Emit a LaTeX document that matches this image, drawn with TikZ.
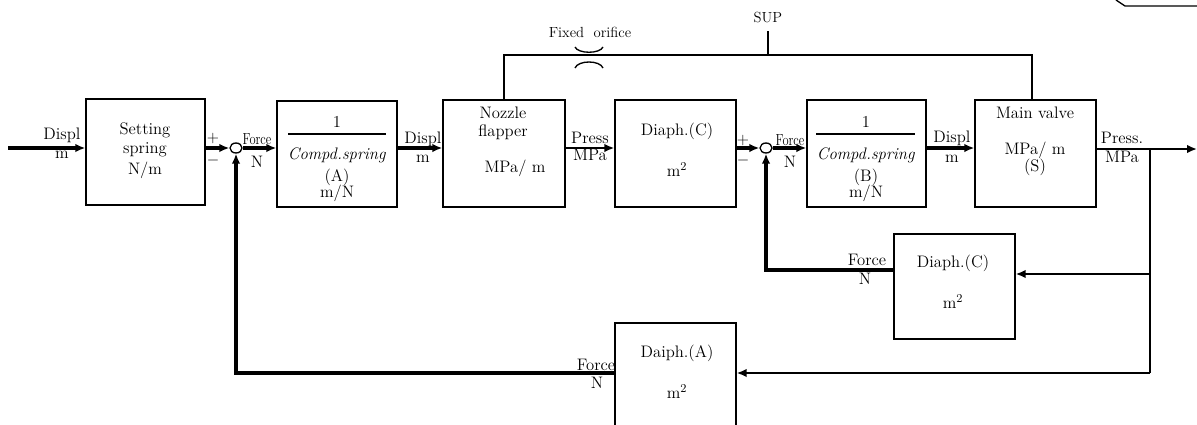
\documentclass[tikz,border=0pt]{standalone}
\usetikzlibrary{arrows.meta,shapes.geometric}
\begin{document}
\begin{tikzpicture}[x=0.75pt,y=-0.75pt,
  font=\fontsize{12.5}{14}\selectfont,
  blk/.style={draw,line width=1pt,inner sep=0pt},
  thk/.style={line width=2.4pt,-{Latex[length=7.5pt,width=6.5pt]}},
  thkline/.style={line width=2.4pt},
  med/.style={line width=1.5pt,-{Latex[length=7.5pt,width=6.5pt]}},
  medline/.style={line width=1.5pt},
  thin/.style={line width=1pt},
  lbl/.style={inner sep=0pt},
  sml/.style={inner sep=0pt,font=\fontsize{11}{12}\selectfont},
  cmp/.style={inner sep=0pt,xscale=0.78,font=\fontsize{12}{12}\selectfont},
  sumj/.style={draw,ellipse,line width=1pt,minimum width=9pt,minimum height=7.5pt,inner sep=0pt,fill=white}]
\useasboundingbox (0,0) rectangle (1197,425);

% blocks
\node[blk,minimum width=119*0.75pt,minimum height=106*0.75pt] (ss) at (145.5,152) {};
\node[blk,minimum width=120*0.75pt,minimum height=106*0.75pt] (ca) at (337,154) {};
\node[blk,minimum width=122*0.75pt,minimum height=107*0.75pt] (nf) at (504,153.5) {};
\node[blk,minimum width=121*0.75pt,minimum height=107*0.75pt] (dc) at (675.5,153.5) {};
\node[blk,minimum width=119*0.75pt,minimum height=107*0.75pt] (cb) at (866.5,153.5) {};
\node[blk,minimum width=121*0.75pt,minimum height=107*0.75pt] (mv) at (1035.5,153.5) {};
\node[blk,minimum width=121*0.75pt,minimum height=105*0.75pt] (dc2) at (954.5,286.5) {};
\node[blk,minimum width=121*0.75pt,minimum height=112*0.75pt] (da) at (675.5,379) {};

% summing junctions
\node[sumj] (s1) at (236,148) {};
\node[sumj] (s2) at (766,148) {};

% helper coordinates
\coordinate (mainy) at (0,148);
\coordinate (outy) at (0,149);
\coordinate (in) at (8,148);
\coordinate (out) at (1197,149);
\coordinate (j) at (1150,149);
\coordinate (jb) at (1150,274);
\coordinate (jc) at (1150,373);
\coordinate (fb2) at (766,270);
\coordinate (fb1) at (236,373);
\coordinate (supL) at (504,55);
\coordinate (supR) at (1032,55);
\coordinate (mvtop) at (1032,100);
\coordinate (supt1) at (768,31);
\coordinate (supt2) at (768,55);

% forward path
\draw[thk] (in) -- (ss.west |- mainy);
\draw[thk] (ss.east |- mainy) -- (s1.west);
\draw[thk] (s1.east) -- (ca.west |- mainy);
\draw[thk] (ca.east |- mainy) -- (nf.west |- mainy);
\draw[med] (nf.east |- mainy) -- (dc.west |- mainy);
\draw[thk] (dc.east |- mainy) -- (s2.west);
\draw[thk] (s2.east) -- (cb.west |- mainy);
\draw[thk] (cb.east |- mainy) -- (mv.west |- mainy);
\draw[med] (mv.east |- outy) -- (out);

% feedback paths
\draw[medline] (j) -- (jc);
\draw[med] (jb) -- (dc2.east |- jb);
\draw[med] (jc) -- (da.east |- jc);
\draw[thk] (dc2.west |- fb2) -- (fb2) -- (s2.south);
\draw[thk] (da.west |- fb1) -- (fb1) -- (s1.south);

% supply line
\draw[thin] (nf.north) -- (supL) -- (supR) -- (mvtop);
\draw[thin] (supt1) -- (supt2);
\node[sml] (sup) at (768,17) {SUP};
\node[sml] (fo) at (590,32) {Fixed\ \ orifice};
\coordinate (o1) at (575,47); \coordinate (o2) at (603,47);
\coordinate (o3) at (575,68); \coordinate (o4) at (603,68);
\draw[thin] (o1) .. controls (578,54) and (600,54) .. (o2);
\draw[thin] (o3) .. controls (578,60) and (600,60) .. (o4);

% top-right corner mark
\coordinate (c1) at (1116,0); \coordinate (c2) at (1125,6); \coordinate (c3) at (1197,6);
\draw[thin] (c1) -- (c2) -- (c3);

% fraction bars
\coordinate (fa1) at (288,134); \coordinate (fa2) at (386,134);
\coordinate (fb1a) at (816,134); \coordinate (fb2a) at (915,134);
\draw[thin] (fa1) -- (fa2);
\draw[thin] (fb1a) -- (fb2a);

% labels
\node[lbl] (l1) at (62,135) {Displ};
\node[lbl] (l2) at (62,155) {m};
\node[lbl] (l3) at (145,130) {Setting};
\node[lbl] (l4) at (145,150) {spring};
\node[lbl] (l5) at (145,170) {N/m};
\node[lbl] (p1) at (213,138) {$+$};
\node[lbl] (m1) at (213,160) {$-$};
\node[cmp] (f1) at (257,139) {Force};
\node[lbl] (n1) at (257,162) {N};
\node[lbl] (a1) at (337,122) {1};
\node[lbl] (a2) at (337,155) {\textit{Compd.spring}};
\node[lbl] (a3) at (337,177) {(A)};
\node[lbl] (a4) at (337,193) {m/N};
\node[lbl] (d1) at (423,139) {Displ};
\node[lbl] (d2) at (423,159) {m};
\node[lbl] (nz1) at (503,113) {Nozzle};
\node[lbl] (nz2) at (503,132) {flapper};
\node[lbl] (nz3) at (515,168) {MPa/ m};
\node[lbl] (pr1) at (590,138) {Press};
\node[lbl] (pr2) at (590,155) {MPa};
\node[lbl] (dc_1) at (677,131) {Diaph.(C)};
\node[lbl] (dc_2) at (677,170) {m$^2$};
\node[lbl] (p2) at (743,140) {$+$};
\node[lbl] (m2) at (743,160) {$-$};
\node[cmp] (f2) at (790,140) {Force};
\node[lbl] (n2) at (790,162) {N};
\node[lbl] (b1) at (866,122) {1};
\node[lbl] (b2) at (866,155) {\textit{Compd.spring}};
\node[lbl] (b3) at (866,177) {(B)};
\node[lbl] (b4) at (866,193) {m/N};
\node[lbl] (d3) at (952,138) {Displ};
\node[lbl] (d4) at (952,159) {m};
\node[lbl] (mv1) at (1035,113) {Main valve};
\node[lbl] (mv2) at (1035,150) {MPa/ m};
\node[lbl] (mv3) at (1035,167) {(S)};
\node[lbl] (pr3) at (1122,138) {Press.};
\node[lbl] (pr4) at (1122,157) {MPa};
\node[lbl] (f3) at (867,260) {Force};
\node[lbl] (n3) at (865,279) {N};
\node[lbl] (e1) at (953,263) {Diaph.(C)};
\node[lbl] (e2) at (953,302) {m$^2$};
\node[lbl] (f4) at (596,365) {Force};
\node[lbl] (n4) at (597,383) {N};
\node[lbl] (g1) at (677,353) {Daiph.(A)};
\node[lbl] (g2) at (677,392) {m$^2$};
\end{tikzpicture}
\end{document}
